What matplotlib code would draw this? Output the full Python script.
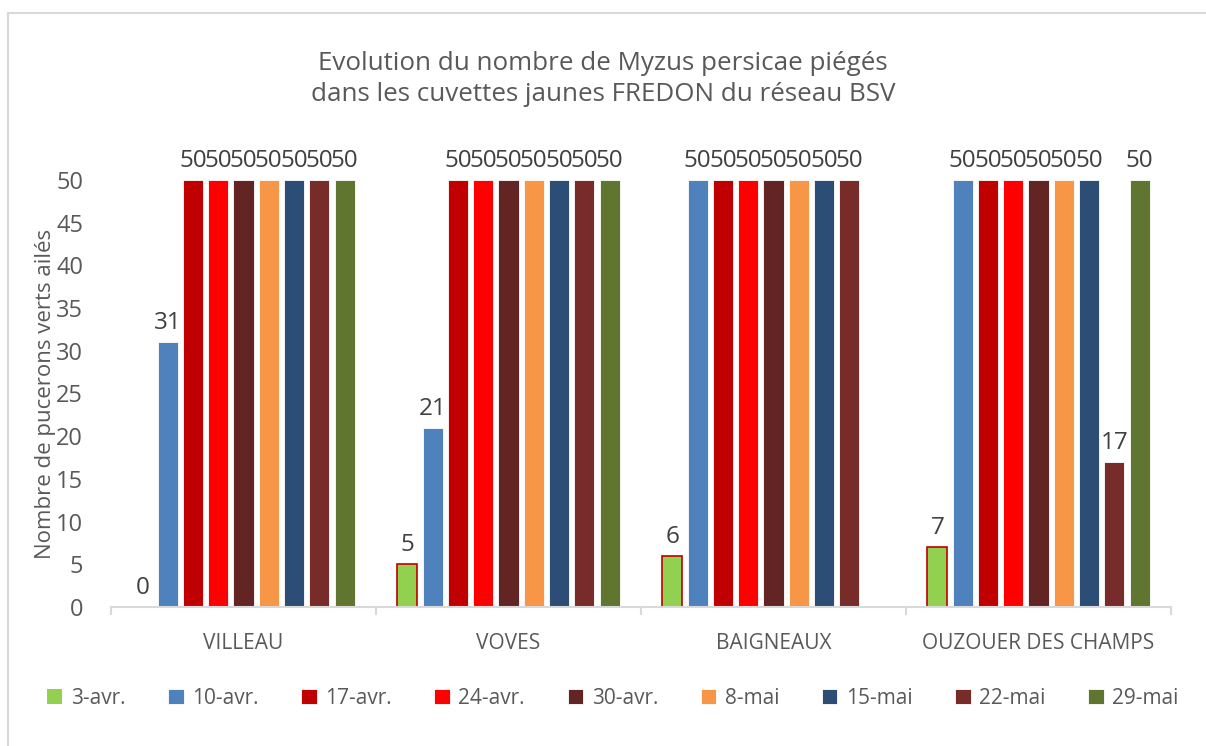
import numpy as np
import matplotlib
matplotlib.use("Agg")
import matplotlib.pyplot as plt
from matplotlib.patches import Rectangle

plt.rcParams['font.family'] = ['Open Sans', 'DejaVu Sans']

sites = ["VILLEAU", "VOVES", "BAIGNEAUX", "OUZOUER DES CHAMPS"]
dates = ["3-avr.", "10-avr.", "17-avr.", "24-avr.", "30-avr.", "8-mai", "15-mai", "22-mai", "29-mai"]
v_3avr = [0, 5, 6, 7]
v_10avr = [31, 21, 50, 50]
v_17avr = [50, 50, 50, 50]
v_24avr = [50, 50, 50, 50]
v_30avr = [50, 50, 50, 50]
v_8mai = [50, 50, 50, 50]
v_15mai = [50, 50, 50, 50]
v_22mai = [50, 50, 50, 17]
v_29mai = [50, 50, np.nan, 50]
series = [v_3avr, v_10avr, v_17avr, v_24avr, v_30avr, v_8mai, v_15mai, v_22mai, v_29mai]
colors = ["#92D050", "#4F81BD", "#C00000", "#FF0000", "#632523",
          "#F79646", "#2C4D75", "#772C2A", "#5F7530"]

title = "Evolution du nombre de Myzus persicae piégés\ndans les cuvettes jaunes FREDON du réseau BSV"
ylabel = "Nombre de pucerons verts ailés"
txt = "#595959"
axc = "#D9D9D9"

fig = plt.figure(figsize=(12.06, 7.46), dpi=100)
fig.patches.append(Rectangle((8/1206, -0.1), 1.2, 1 - 13/746 + 0.1, transform=fig.transFigure,
                             fill=False, edgecolor="#D9D9D9", linewidth=1.5))
ax = fig.add_axes([111/1206, 1 - 607/746, 1060/1206, 427/746])

x = np.arange(len(sites))
step = 0.0953
width = 0.0755
for i, (vals, c, lab) in enumerate(zip(series, colors, dates)):
    pos = x + (i - 4) * step
    if i == 0:
        bars = ax.bar(pos, vals, width, color=c, edgecolor="#C00000", linewidth=1.2, label=lab)
    else:
        bars = ax.bar(pos, vals, width, color=c, edgecolor="white", linewidth=0.6, label=lab)
    for b, v in zip(bars, vals):
        if np.isnan(v):
            continue
        if v == 0:
            b.set_linewidth(0)
        ax.annotate(f"{int(v)}", (b.get_x() + b.get_width() / 2, v), xytext=(0, 5),
                    textcoords="offset points", ha="center", va="bottom",
                    fontsize=17.5, color="#404040")

ax.set_xlim(-0.5, 3.5)
ax.set_ylim(0, 50)
ax.set_yticks(np.arange(0, 51, 5))
ax.set_xticks(x)
ax.set_xticklabels(sites)
for s in ["top", "right", "left"]:
    ax.spines[s].set_visible(False)
ax.spines["bottom"].set_color(axc)
ax.spines["bottom"].set_linewidth(1.5)
ax.tick_params(axis="y", length=0, labelsize=17, labelcolor=txt, pad=20)
ax.tick_params(axis="x", length=0, labelsize=15, labelcolor=txt, pad=19)
for b in np.arange(-0.5, 3.6, 1):
    ax.plot([b, b], [0, -0.017], transform=ax.get_xaxis_transform(), color=axc,
            linewidth=1.5, clip_on=False)
ax.set_ylabel(ylabel, fontsize=16, color=txt)
ax.yaxis.set_label_coords(-0.052, 0.5)

fig.text(0.5, 1 - 79/746, title, ha="center", va="center", fontsize=18.7, color=txt,
         linespacing=1.35)

handles, labels = ax.get_legend_handles_labels()
fig.legend(handles, labels, loc="center", bbox_to_anchor=(0.508, 1 - 698/746), ncol=9,
           frameon=False, fontsize=15, labelcolor=txt, handlelength=0.75, handleheight=0.75,
           handletextpad=0.4, columnspacing=2.05)

fig.savefig("out.png", dpi=100)
